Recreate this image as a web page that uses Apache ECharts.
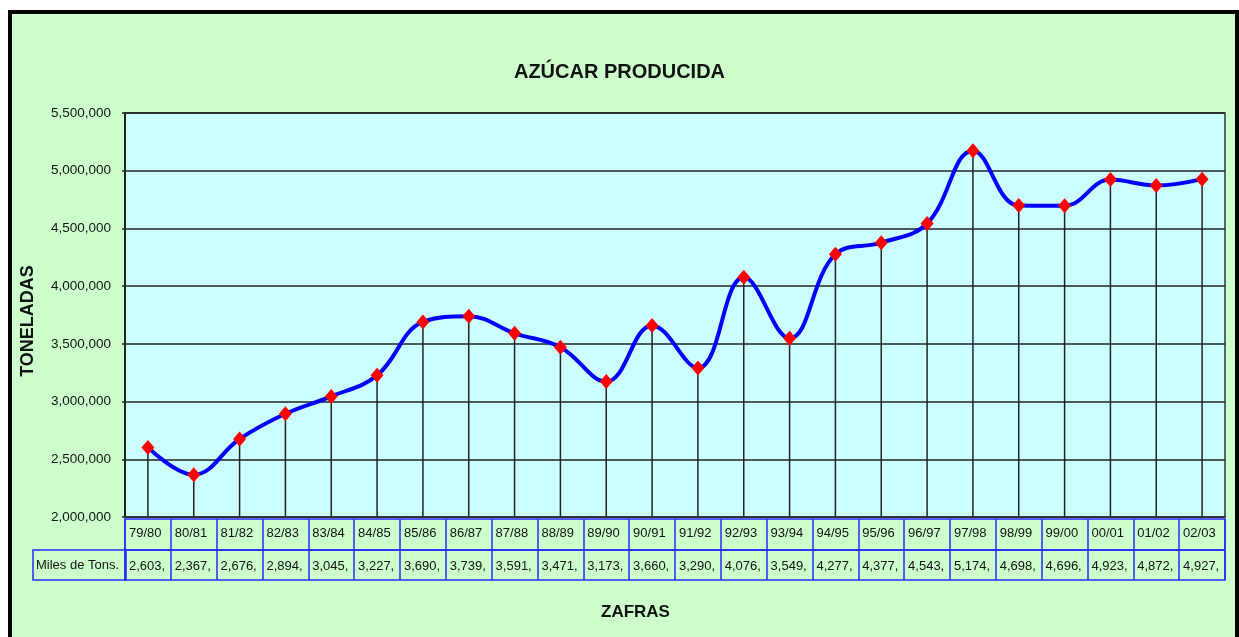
<!DOCTYPE html>
<html>
<head>
<meta charset="utf-8">
<script src="https://cdn.jsdelivr.net/npm/echarts@6/dist/echarts.min.js"></script>
<style>
html,body{margin:0;padding:0;background:#ffffff;width:1239px;height:637px;overflow:hidden;}
#frame{position:absolute;left:8px;top:10px;width:1231px;height:660px;box-sizing:border-box;
  border-left:4px solid #000;border-top:4px solid #000;border-right:4px solid #000;background:#ccffcc;}
#chart{position:absolute;left:0;top:0;width:1239px;height:637px;}
</style>
</head>
<body>
<div id="frame"></div>
<div id="chart"></div>
<script>
// ---- data ----
const categories = ['79/80','80/81','81/82','82/83','83/84','84/85','85/86','86/87','87/88','88/89','89/90','90/91',
  '91/92','92/93','93/94','94/95','95/96','96/97','97/98','98/99','99/00','00/01','01/02','02/03'];
// production in thousands of tonnes (as shown in the data table)
const milesDeTons = [2603,2367,2676,2894,3045,3227,3690,3739,3591,3471,3173,3660,
  3290,4076,3549,4277,4377,4543,5174,4698,4696,4923,4872,4927];
const toneladas = milesDeTons.map(v => v * 1000);
const yTicks = {min: 2000000, max: 5500000, interval: 500000};

const FONT = "'Liberation Sans', Arial, sans-serif";
const BLUE_TABLE = '#2a2aff';

function fmtThousands(n){ return String(n).replace(/\B(?=(\d{3})+(?!\d))/g, ','); }

const chart = echarts.init(document.getElementById('chart'), null, {renderer:'canvas'});
const gridLR = {left:125, right:14};

const option = {
  backgroundColor: 'transparent',
  animation: false,
  title: [
    {text:'AZÚCAR PRODUCIDA', left:'center', top:57,
     textStyle:{fontFamily:FONT, fontSize:20, fontWeight:'bold', color:'#111'}},
    {text:'ZAFRAS', left:596, top:599,
     textStyle:{fontFamily:FONT, fontSize:17, fontWeight:'bold', color:'#111'}}
  ],
  grid: [
    {left:gridLR.left, right:gridLR.right, top:113, bottom:120, show:true,
     backgroundColor:'#ccffff', borderColor:'#333', borderWidth:1.5},
    {left:gridLR.left, right:gridLR.right, top:519, height:31, show:true,
     backgroundColor:'transparent', borderColor:BLUE_TABLE, borderWidth:1.5},
    {left:gridLR.left, right:gridLR.right, top:550, height:30, show:true,
     backgroundColor:'transparent', borderColor:BLUE_TABLE, borderWidth:1.5}
  ],
  xAxis: [
    {type:'category', data:categories, gridIndex:0, boundaryGap:true,
     axisLine:{show:true, lineStyle:{color:'#333', width:1.5}},
     axisTick:{show:false}, splitLine:{show:false},
     axisLabel:{
       interval:0, margin:0, align:'center',
       formatter:(val, idx) => '{a|' + val + '}\n{b|' + fmtThousands(milesDeTons[idx]) + ',}',
       rich:{
         a:{fontFamily:FONT, fontSize:13, color:'#111', lineHeight:33, width:38, align:'left'},
         b:{fontFamily:FONT, fontSize:13, color:'#111', lineHeight:33, width:38, align:'left'}
       }
     }},
    {type:'category', data:categories, gridIndex:1, boundaryGap:true,
     axisLine:{show:false}, axisTick:{show:false}, axisLabel:{show:false},
     splitLine:{show:true, interval:0, lineStyle:{color:BLUE_TABLE, width:1.5}}},
    {type:'category', data:categories, gridIndex:2, boundaryGap:true,
     axisLine:{show:false}, axisTick:{show:false}, axisLabel:{show:false},
     splitLine:{show:true, interval:0, lineStyle:{color:BLUE_TABLE, width:1.5}}}
  ],
  yAxis: [
    {type:'value', gridIndex:0, min:yTicks.min, max:yTicks.max, interval:yTicks.interval,
     name:'TONELADAS', nameLocation:'middle', nameGap:88, nameRotate:90,
     nameTextStyle:{fontFamily:FONT, fontSize:18, fontWeight:'bold', color:'#111', padding:[0,0,0,-12]},
     axisLine:{show:true, lineStyle:{color:'#222', width:2}},
     axisTick:{show:true, length:3, lineStyle:{color:'#222', width:1.5}},
     axisLabel:{margin:14, fontFamily:FONT, fontSize:13.5, color:'#111',
       formatter:v => fmtThousands(v)},
     splitLine:{show:true, lineStyle:{color:'#222', width:1.5}}},
    {type:'value', gridIndex:1, show:false},
    {type:'value', gridIndex:2, show:false}
  ],
  graphic: [
    {type:'rect', shape:{x:33, y:550, width:93, height:30},
     style:{fill:'transparent', stroke:BLUE_TABLE, lineWidth:1.5}},
    {type:'text', x:36, y:565, style:{text:'Miles de Tons.', font:'13px ' + FONT, fill:'#111', verticalAlign:'middle'}}
  ],
  series: [
    {type:'bar', xAxisIndex:0, yAxisIndex:0, data:toneladas, barWidth:1.5, silent:true,
     itemStyle:{color:'#222'}, z:1},
    {type:'line', xAxisIndex:0, yAxisIndex:0, data:toneladas, smooth:0.4,
     lineStyle:{color:'#0000ff', width:4},
     symbol:'diamond', symbolSize:[13,15], showSymbol:true,
     itemStyle:{color:'#ff0000'}, z:3}
  ]
};
chart.setOption(option);
</script>
</body>
</html>
